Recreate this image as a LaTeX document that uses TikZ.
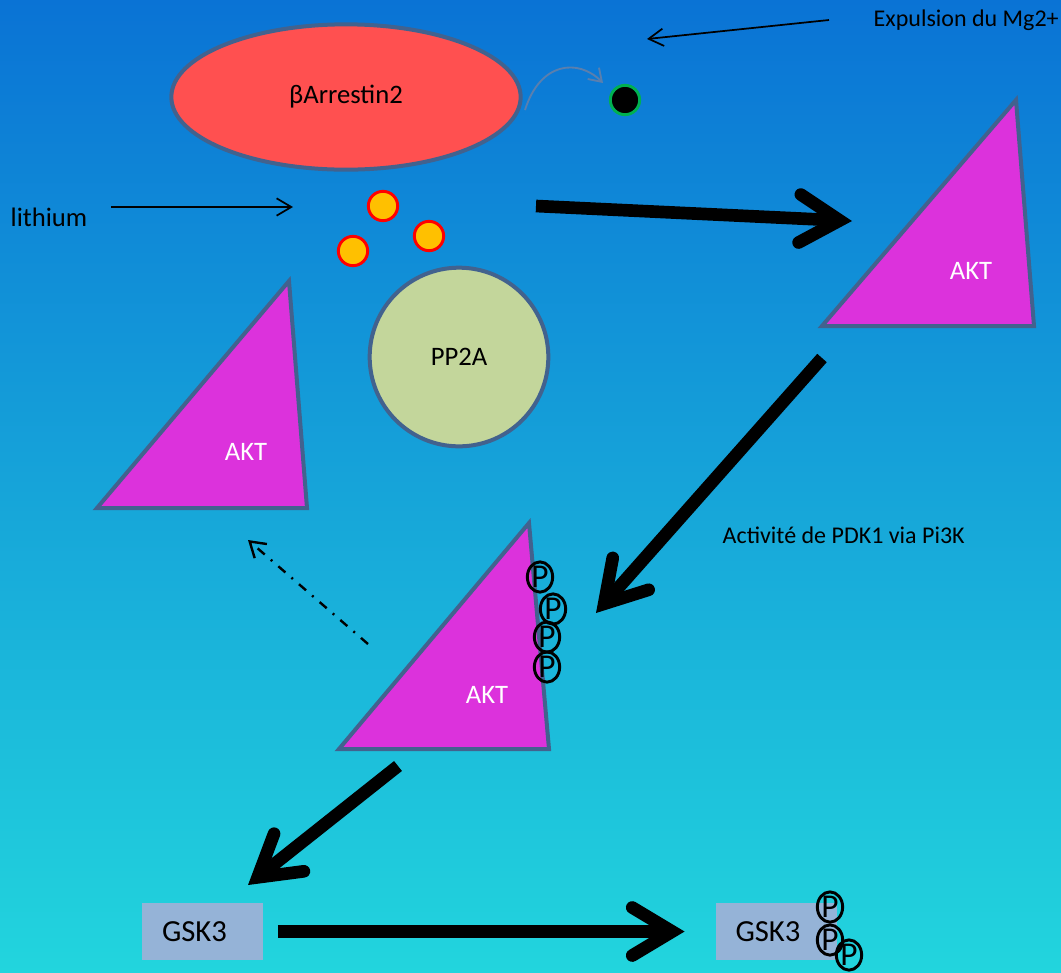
\documentclass[tikz,border=0pt]{standalone}
\usepackage{fontspec}
\setmainfont{Carlito}
\usetikzlibrary{arrows.meta,shapes.geometric}
\definecolor{bgtop}{HTML}{0A73D5}
\definecolor{bgbot}{HTML}{22D5DD}
\definecolor{slate}{HTML}{42628E}
\definecolor{salmon}{HTML}{FF5050}
\definecolor{sage}{HTML}{C3D69B}
\definecolor{orchid}{HTML}{DC32DC}
\definecolor{amber}{HTML}{FFC000}
\definecolor{mggreen}{HTML}{00B050}
\definecolor{lavblue}{HTML}{95B3D7}
\definecolor{curvegrey}{HTML}{5A7FAE}

\begin{document}
\begin{tikzpicture}[x=0.75pt,y=-0.75pt,
  akt/.style={fill=orchid,draw=slate,line width=3pt,line join=miter},
  ion/.style={circle,fill=amber,draw=red,line width=2.2pt,minimum size=22pt,inner sep=0pt},
  phos/.style={ellipse,draw=black,line width=2.2pt,minimum width=19pt,minimum height=21pt,inner sep=0pt,font=\fontsize{25}{25}\selectfont},
  gsk/.style={fill=lavblue,inner xsep=15pt,text width=60.75pt,align=left,minimum height=42.75pt,font=\fontsize{23}{26}\selectfont},
  bigarrow/.style={line width=9.5pt,-{Straight Barb[length=30pt,width=36pt,line cap=round,line join=miter]}},
  thinarrow/.style={line width=1.3pt,-{Straight Barb[length=11pt,width=13pt]}},
  lbl/.style={font=\fontsize{20}{24}\selectfont},
  small/.style={font=\fontsize{18}{22}\selectfont}]
\useasboundingbox (0,0) rectangle (1061,972);
\shade[top color=bgtop,bottom color=bgbot] (0,0) rectangle (1061,972);
% beta-arrestin and Mg2+
\node[ellipse,fill=salmon,draw=slate,line width=3pt,minimum width=262pt,minimum height=109pt,lbl] (arrestin) at (346,97) {βArrestin2};
\node[circle,fill=black,draw=mggreen,line width=2.2pt,minimum size=22pt,inner sep=0pt] (mg) at (625,100) {};
\coordinate (mgs) at (525,110);
\coordinate (mge) at (603,83);
\draw[curvegrey,line width=1.4pt,-{Straight Barb[length=9pt,width=12pt]}] (mgs) .. controls (540,62) and (578,58) .. (mge);
\node[small,anchor=west] (expul) at (869,20) {Expulsion du Mg2+};
\coordinate (expe) at (647,39);
\draw[thinarrow] ([xshift=-30pt]expul.west) -- (expe);
% lithium
\node[lbl,anchor=west] (lith) at (6,217) {lithium};
\coordinate (lithe) at (293,207);
\draw[thinarrow] (111,207) -- (lithe);
\node[ion] (li1) at (383,206) {};
\node[ion] (li2) at (353,251) {};
\node[ion] (li3) at (429,236) {};
\node[circle,fill=sage,draw=slate,line width=3pt,minimum size=134pt,lbl] (pp2a) at (459,357) {PP2A};
% AKT triangles
\draw[akt] (822,326) -- (1016,100) -- (1034,326) -- cycle;
\node[lbl,white] (aktR) at (971,271) {AKT};
\draw[akt] (97,508) -- (289,281) -- (307,508) -- cycle;
\node[lbl,white] (aktL) at (246,452) {AKT};
\draw[akt] (339,749) -- (529,523) -- (549,749) -- cycle;
\node[lbl,white] (aktB) at (487,695) {AKT};
\foreach \px/\py in {540/577,553/609,547/637,547/667}
  \node[phos] at (\px,\py) {P};
% main cascade
\coordinate (c1s) at (536,206);
\coordinate (c1e) at (852,221);
\draw[bigarrow] (c1s) -- (c1e);
\coordinate (c2s) at (822,358);
\coordinate (c2e) at (596,613);
\draw[bigarrow] (c2s) -- (c2e);
\node[small,anchor=west] (pdk) at (718,535) {Activité de PDK1 via Pi3K};
\coordinate (c3s) at (368,644);
\coordinate (c3e) at (248,540);
\draw[line width=1.8pt,dash pattern=on 7pt off 6pt on 1.5pt off 6pt,-{Straight Barb[length=11pt,width=14pt]}] (c3s) -- (c3e);
\coordinate (c4s) at (398,766);
\coordinate (c4e) at (248,885);
\draw[bigarrow] (c4s) -- (c4e);
% GSK3
\node[gsk] (gskL) at (202.5,931.5) {GSK3};
\node[gsk] (gskR) at (776,931.5) {GSK3};
\draw[bigarrow,shorten <=11pt,shorten >=23pt] (gskL.east) -- (gskR.west);
\node[phos] at (830,907) {P};
\node[phos] at (830,940) {P};
\node[phos] at (849,955) {P};
\end{tikzpicture}
\end{document}
